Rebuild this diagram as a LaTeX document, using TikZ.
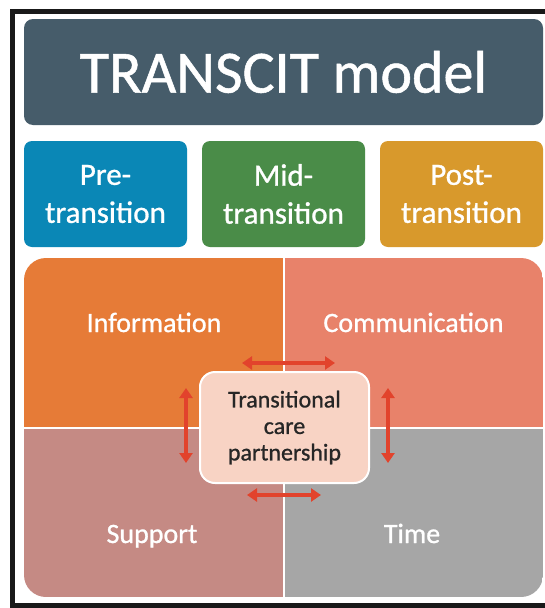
\documentclass[tikz,border=0pt]{standalone}
\usepackage{fontspec}
\setmainfont{Carlito}[FakeBold=0.9]
\usetikzlibrary{arrows.meta}

\definecolor{titlebg}{HTML}{465C6A}
\definecolor{prebg}{HTML}{0A87B6}
\definecolor{midbg}{HTML}{4A8C48}
\definecolor{postbg}{HTML}{D8992C}
\definecolor{infobg}{HTML}{E67B37}
\definecolor{commbg}{HTML}{E8826A}
\definecolor{suppbg}{HTML}{C58A84}
\definecolor{timebg}{HTML}{A6A6A6}
\definecolor{corebg}{HTML}{F8D3C4}
\definecolor{arrowred}{HTML}{E2432C}
\definecolor{coretext}{HTML}{262626}

\tikzset{
  titlebox/.style={fill=titlebg, rounded corners=9pt, minimum width=519pt,
    minimum height=106pt, text=white, font=\fontsize{60}{66}\selectfont},
  phasebox/.style={rounded corners=8pt, minimum width=163pt, minimum height=106pt,
    text=white, align=center, font=\fontsize{31}{38}\selectfont},
  quadlabel/.style={text=white, anchor=base, inner sep=0pt,
    font=\fontsize{28}{32}\selectfont},
  corebox/.style={fill=corebg, draw=white, line width=2pt, rounded corners=15pt,
    minimum width=169pt, minimum height=111pt, align=center, text=coretext,
    font=\fontsize{24}{26.5}\selectfont},
  linkarrow/.style={draw=arrowred, line width=4.5pt,
    {Triangle[width=13pt,length=10pt]}-{Triangle[width=13pt,length=10pt]}},
  frameline/.style={draw=black!90, line width=5pt}
}

\begin{document}
\begin{tikzpicture}[x=1pt, y=-1pt]
  \useasboundingbox (0,0) rectangle (545,608);
  \fill[white] (0,0) rectangle (545,608);

  % outer frame, its right side runs past the page edge
  \begin{scope}
    \clip (0,0) rectangle (545,608);
    \draw[frameline] (12,11) rectangle (570,605);
  \end{scope}

  % heading
  \node[titlebox] (title) at (283.5,72) {TRANSCIT model};

  % transition phases
  \node[phasebox, fill=prebg]  (pre)  at (105.5,194) {Pre-\\transition};
  \node[phasebox, fill=midbg]  (mid)  at (283.5,194) {Mid-\\transition};
  \node[phasebox, fill=postbg] (post) at (461.5,194) {Post-\\transition};

  % four quadrants inside a rounded panel
  \begin{scope}
    \clip[rounded corners=22pt] (24,258) rectangle (543,597);
    \fill[infobg] (24,258) rectangle (284,428);
    \fill[commbg] (284,258) rectangle (543,428);
    \fill[suppbg] (24,428) rectangle (284,597);
    \fill[timebg] (284,428) rectangle (543,597);
    \draw[white, line width=2pt] (284,250) -- (284,605);
    \draw[white, line width=2pt] (20,428) -- (550,428);
  \end{scope}

  \node[quadlabel] (info) at (154,332) {Information};
  \node[quadlabel] (comm) at (413.5,332) {Communication};
  \node[quadlabel] (supp) at (152,543) {Support};
  \node[quadlabel] (time) at (412,543) {Time};

  % central partnership
  \node[corebox] (core) at (284.5,427.5) {Transitional\\care\\partnership};

  % two-way links around the centre
  \coordinate (topL) at (242,363);
  \coordinate (topR) at (335,363);
  \coordinate (botL) at (247,495);
  \coordinate (botR) at (321,495);
  \coordinate (lefT) at (186,388);
  \coordinate (lefB) at (186,463);
  \coordinate (rigT) at (388,388);
  \coordinate (rigB) at (388,463);
  \draw[linkarrow] (topL) -- (topR);
  \draw[linkarrow] (botL) -- (botR);
  \draw[linkarrow] (lefT) -- (lefB);
  \draw[linkarrow] (rigT) -- (rigB);
\end{tikzpicture}
\end{document}
